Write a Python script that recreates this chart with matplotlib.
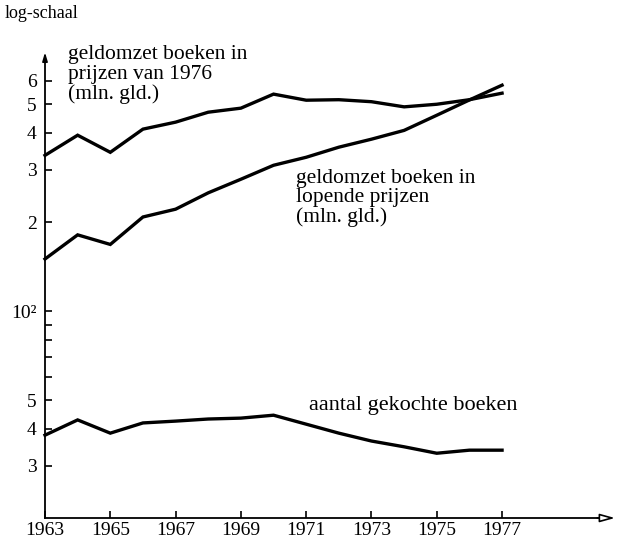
# -*- coding: utf-8 -*-
"""
Boekenmarkt 1963-1977, logaritmische schaal
"""

import matplotlib
matplotlib.use('Agg')
import matplotlib.pyplot as plt
from matplotlib.ticker import FixedLocator, FixedFormatter, NullFormatter

plt.rcParams['font.family'] = ['Liberation Serif', 'DejaVu Serif']

# jaren
years = list(range(1963, 1978))

# geldomzet boeken in prijzen van 1976 (mln. gld.)
omzetConstant = [336, 393, 344, 412, 435, 470, 485, 541, 516, 518, 510, 490,
                 500, 518, 545]
# geldomzet boeken in lopende prijzen (mln. gld.)
omzetLopend = [150, 181, 168, 208, 221, 251, 279, 311, 331, 358, 381, 408,
               459, 517, 580]
# aantal gekochte boeken
aantalBoeken = [38.1, 42.9, 38.7, 41.9, 42.5, 43.2, 43.5, 44.5, 41.5, 38.7,
                36.4, 34.8, 33.1, 33.9, 33.9]

yTicks = [30, 40, 50, 100, 200, 300, 400, 500, 600]
yTickLabels = ['3', '4', '5', '10²', '2', '3', '4', '5', '6']
yMinorTicks = [60, 70, 80, 90]
xTicks = list(range(1963, 1978, 2))


def drawChart():
    fig = plt.figure(figsize=(6.18, 5.43), dpi=100)
    ax = fig.add_axes([45 / 618, 25 / 543, 555 / 618, 457 / 543])

    for serie in (omzetConstant, omzetLopend, aantalBoeken):
        ax.plot(years, serie, color='black', lw=2.4,
                solid_joinstyle='miter', clip_on=False)

    ax.set_yscale('log')
    ax.set_xlim(1963, 1980)
    ax.set_ylim(20, 700)

    ax.yaxis.set_major_locator(FixedLocator(yTicks))
    ax.yaxis.set_major_formatter(FixedFormatter(yTickLabels))
    ax.yaxis.set_minor_locator(FixedLocator(yMinorTicks))
    ax.yaxis.set_minor_formatter(NullFormatter())
    ax.set_xticks(xTicks)
    ax.set_xticklabels([str(j) for j in xTicks])

    ax.tick_params(axis='y', which='both', direction='in', length=5,
                   width=1.2, pad=6, labelsize=14)
    ax.tick_params(axis='x', direction='in', length=5, width=1.2, pad=3,
                   labelsize=14)

    for s in ('top', 'right'):
        ax.spines[s].set_visible(False)
    for s in ('left', 'bottom'):
        ax.spines[s].set_linewidth(1.3)

    # pijlen aan de assen
    ax.annotate('', xy=(0, 1.025), xytext=(0, 0.995),
                xycoords='axes fraction', textcoords='axes fraction',
                arrowprops=dict(arrowstyle='-|>,head_length=0.5,head_width=0.15',
                                color='black', lw=1.2))
    ax.annotate('', xy=(1.032, 0.0), xytext=(0.99, 0.0),
                xycoords='axes fraction', textcoords='axes fraction',
                arrowprops=dict(arrowstyle='-|>,head_length=0.9,head_width=0.25',
                                fc='white', ec='black', lw=1.2))

    ax.text(-0.072, 1.095, 'log-schaal', transform=ax.transAxes,
            fontsize=13, ha='left', va='baseline')
    ax.text(1963.7, 790, 'geldomzet boeken in\nprijzen van 1976\n(mln. gld.)',
            fontsize=15.5, ha='left', va='top', linespacing=1.02)
    ax.text(1970.7, 302, 'geldomzet boeken in\nlopende prijzen\n(mln. gld.)',
            fontsize=15.5, ha='left', va='top', linespacing=1.02)
    ax.text(1971.1, 46.3, 'aantal gekochte boeken', fontsize=16,
            ha='left', va='baseline')

    fig.savefig('out.png', dpi=100)


if __name__ == '__main__':
    drawChart()
